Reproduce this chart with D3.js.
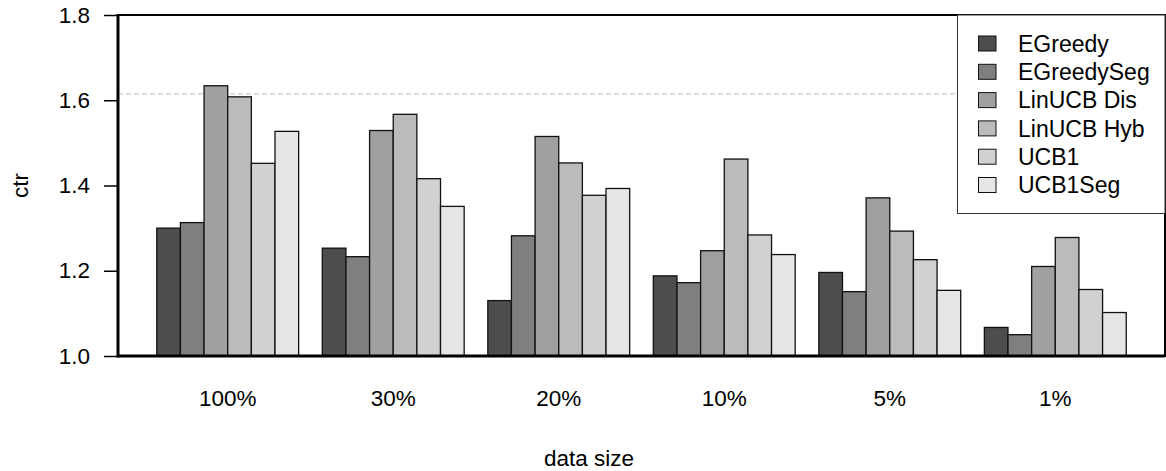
<!DOCTYPE html>
<html><head><meta charset="utf-8">
<script src="https://cdn.jsdelivr.net/npm/d3@7"></script>
<style>body{margin:0;background:#fff;} text{font-family:"Liberation Sans",Arial,sans-serif;}</style>
</head><body><svg id="c" width="1166" height="471"></svg>
<script>
const categories = ["100%", "30%", "20%", "10%", "5%", "1%"];
const seriesNames = ["EGreedy", "EGreedySeg", "LinUCB Dis", "LinUCB Hyb", "UCB1", "UCB1Seg"];
const EGreedy    = [1.300, 1.253, 1.130, 1.188, 1.196, 1.067];
const EGreedySeg = [1.313, 1.233, 1.282, 1.172, 1.151, 1.050];
const LinUCBDis  = [1.634, 1.529, 1.515, 1.247, 1.371, 1.210];
const LinUCBHyb  = [1.608, 1.567, 1.453, 1.462, 1.293, 1.278];
const UCB1       = [1.452, 1.416, 1.377, 1.284, 1.226, 1.156];
const UCB1Seg    = [1.527, 1.351, 1.393, 1.238, 1.154, 1.102];
const seriesValues = [EGreedy, EGreedySeg, LinUCBDis, LinUCBHyb, UCB1, UCB1Seg];
const colors = ["#4d4d4d", "#7f7f7f", "#a0a0a0", "#bbbbbb", "#d1d1d1", "#e6e6e6"];
const yTicks = [1.0, 1.2, 1.4, 1.6, 1.8];
const refLine = 1.615;

const svg = d3.select("#c");
const L = 118, R = 1165, T = 15, B = 356;
const nS = seriesNames.length;
const groupW = nS + 1;
const x = d3.scaleLinear().domain([-0.64, 43.64]).range([L, R]);
const y = d3.scaleLinear().domain([1.0, 1.8]).range([B, T]);
const FS = 22.5;

// reference dashed line
svg.append("line").attr("x1", L).attr("x2", R).attr("y1", y(refLine)).attr("y2", y(refLine))
  .attr("stroke", "#bdbdbd").attr("stroke-width", 1).attr("stroke-dasharray", "5,3");

// bars
categories.forEach((c, g) => {
  seriesValues.forEach((vals, s) => {
    const x0 = 1 + groupW * g + s;
    svg.append("rect")
      .attr("x", x(x0)).attr("width", x(x0 + 1) - x(x0))
      .attr("y", y(vals[g])).attr("height", y(1.0) - y(vals[g]))
      .attr("fill", colors[s]).attr("stroke", "#111").attr("stroke-width", 1.3);
  });
  svg.append("text").attr("x", x(1 + groupW * g + nS / 2)).attr("y", 406)
    .attr("text-anchor", "middle").attr("font-size", FS).text(c);
});

// y axis
const yAxis = d3.axisLeft(y).tickValues(yTicks).tickFormat(d3.format(".1f")).tickSize(14).tickPadding(14);
const ga = svg.append("g").attr("transform", `translate(${L},0)`).call(yAxis);
ga.select(".domain").remove();
ga.selectAll(".tick line").attr("stroke", "#000").attr("stroke-width", 1.5);
ga.selectAll(".tick text").attr("font-size", FS).attr("fill", "#000")
  .attr("font-family", "Liberation Sans, Arial, sans-serif");

// frame
svg.append("rect").attr("x", L).attr("y", T).attr("width", R - L).attr("height", B - T)
  .attr("fill", "none").attr("stroke", "#000").attr("stroke-width", 2);
svg.append("line").attr("x1", L).attr("x2", L).attr("y1", T - 1).attr("y2", B + 1.5).attr("stroke", "#000").attr("stroke-width", 3);
svg.append("line").attr("x1", L).attr("x2", R).attr("y1", B).attr("y2", B).attr("stroke", "#000").attr("stroke-width", 3);

// legend
const lg = svg.append("g");
lg.append("rect").attr("x", 957.5).attr("y", T).attr("width", R - 957.5).attr("height", 213.5 - T)
  .attr("fill", "#fff").attr("stroke", "#333").attr("stroke-width", 1);
seriesNames.forEach((n, i) => {
  const cy = 43.5 + i * 28.3;
  lg.append("rect").attr("x", 978.5).attr("y", cy - 7.5).attr("width", 17.5).attr("height", 15)
    .attr("fill", colors[i]).attr("stroke", "#111").attr("stroke-width", 1);
  lg.append("text").attr("x", 1018).attr("y", cy).attr("dy", "0.36em").attr("font-size", 23).text(n);
});

// axis titles
svg.append("text").attr("transform", `translate(28,${(T + B) / 2}) rotate(-90)`)
  .attr("text-anchor", "middle").attr("font-size", FS).text("ctr");
svg.append("text").attr("x", 589).attr("y", 466).attr("text-anchor", "middle").attr("font-size", FS).text("data size");
</script></body></html>
